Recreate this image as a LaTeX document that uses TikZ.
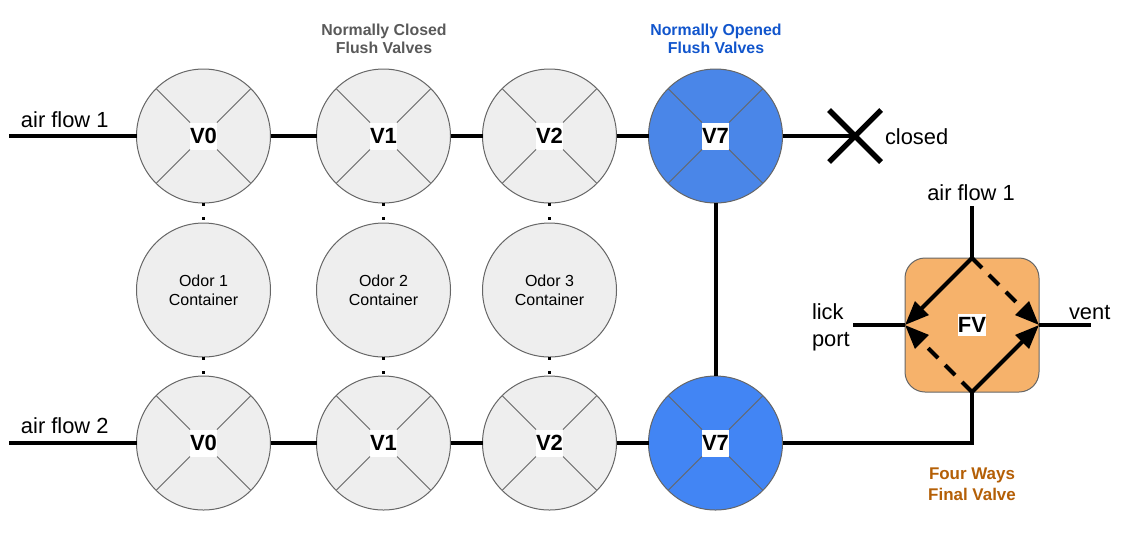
\documentclass[tikz,border=0pt]{standalone}
\usepackage{fontspec}
\setmainfont{Liberation Sans}
\usetikzlibrary{arrows.meta}
\definecolor{vgray}{HTML}{EEEEEE}
\definecolor{vstroke}{HTML}{666666}
\definecolor{vblueA}{HTML}{4A86E8}
\definecolor{vblueB}{HTML}{4285F4}
\definecolor{tgray}{HTML}{595959}
\definecolor{tblue}{HTML}{1155CC}
\definecolor{tbrown}{HTML}{B45F06}
\definecolor{forange}{HTML}{F6B26B}
\tikzset{
  x=0.75pt,y=-0.75pt,
  bigcircle/.style={circle,draw=vstroke,line width=0.75pt,minimum size=100.5pt,inner sep=0pt,outer sep=0pt},
  vlabel/.style={fill=white,inner sep=0pt,outer sep=0pt,minimum width=20.25pt,minimum height=20.25pt,font=\bfseries\fontsize{16.5}{18}\selectfont},
  vspoke/.style={draw=vstroke,line width=0.75pt},
  pipe/.style={draw=black,line width=3pt},
  dotted link/.style={draw=black,line width=2.5pt,dash pattern=on 2.5pt off 8pt},
  big/.style={font=\fontsize{16.4}{20}\selectfont,inner sep=0pt,outer sep=0pt},
  head/.style={align=center,inner sep=0pt,font=\bfseries\fontsize{11.9}{13.5}\selectfont},
  odortext/.style={align=center,font=\fontsize{12}{14.25}\selectfont},
  fvarrow/.style={pipe,-{Triangle[length=18pt,width=14pt]}},
  fvdash/.style={fvarrow,dash pattern=on 10.5pt off 7.5pt},
}
\newcommand{\valve}[5]{%
  \node[bigcircle,fill=#4] (#1) at (#2,#3) {};
  \node[vlabel] (#1l) at (#1) {#5};
  \draw[vspoke] (#1.north east) -- (#1l.north east);
  \draw[vspoke] (#1.north west) -- (#1l.north west);
  \draw[vspoke] (#1.south east) -- (#1l.south east);
  \draw[vspoke] (#1.south west) -- (#1l.south west);
}
\begin{document}
\begin{tikzpicture}
\useasboundingbox (0,0) rectangle (1130,537);
% valves
\valve{a0}{203.5}{136}{vgray}{V0}
\valve{a1}{383.5}{136}{vgray}{V1}
\valve{a2}{549.5}{136}{vgray}{V2}
\valve{a7}{715.5}{136}{vblueA}{V7}
\valve{b0}{203.5}{443}{vgray}{V0}
\valve{b1}{383.5}{443}{vgray}{V1}
\valve{b2}{549.5}{443}{vgray}{V2}
\valve{b7}{715.5}{443}{vblueB}{V7}
% odor containers
\node[bigcircle,fill=vgray,odortext] (o1) at (203.5,290) {Odor 1\\Container};
\node[bigcircle,fill=vgray,odortext] (o2) at (383.5,290) {Odor 2\\Container};
\node[bigcircle,fill=vgray,odortext] (o3) at (549.5,290) {Odor 3\\Container};
% final valve
\node[draw=vstroke,line width=0.75pt,fill=forange,rounded corners=15pt,minimum size=100.5pt,inner sep=0pt,outer sep=0pt] (fv) at (972,325) {};
\node[fill=white,inner sep=0pt,minimum width=21pt,minimum height=16.5pt,font=\bfseries\fontsize{16.5}{18}\selectfont] (fvl) at (fv) {FV};
% free ends
\coordinate (inA) at (9,136);
\coordinate (inB) at (9,443);
\coordinate (xc) at (855,136);
\coordinate (x1) at (829,110);
\coordinate (x2) at (881,162);
\coordinate (x3) at (881,110);
\coordinate (x4) at (829,162);
\coordinate (topin) at (972,206);
\coordinate (lickend) at (853,325);
\coordinate (ventend) at (1091,325);
% pipes
\draw[pipe] (inA) -- (a0);
\draw[pipe] (a0) -- (a1);
\draw[pipe] (a1) -- (a2);
\draw[pipe] (a2) -- (a7);
\draw[pipe] (a7) -- (xc);
\draw[pipe] (inB) -- (b0);
\draw[pipe] (b0) -- (b1);
\draw[pipe] (b1) -- (b2);
\draw[pipe] (b2) -- (b7);
\draw[pipe] (a7) -- (b7);
\draw[pipe] (b7.east) -| (fv.south);
\draw[pipe] (topin) -- (fv.north);
\draw[pipe] (lickend) -- (fv.west);
\draw[pipe] (fv.east) -- (ventend);
\draw[line width=4pt] (x1) -- (x2);
\draw[line width=4pt] (x3) -- (x4);
% dotted links
\foreach \u/\l in {a0/o1,a1/o2,a2/o3,o1/b0,o2/b1,o3/b2}{
  \draw[dotted link] (\u.south) -- (\l.north);
}
% four-way arrows
\draw[fvarrow] (fv.north) -- (fv.west);
\draw[fvarrow] (fv.south) -- (fv.east);
\draw[fvdash] (fv.north) -- (fv.east);
\draw[fvdash] (fv.south) -- (fv.west);
% labels
\node[big,anchor=base west] (t1) at (21,127) {air flow 1};
\node[big,anchor=base west] (t2) at (21,433) {air flow 2};
\node[big,anchor=base west] (t3) at (885,144) {closed};
\node[big,anchor=base] (t4) at (971,200) {air flow 1};
\node[big,anchor=base west] (t5) at (812,319) {lick};
\node[big,anchor=base west] (t6) at (812,346) {port};
\node[big,anchor=base west] (t7) at (1069,319) {vent};
\node[head,text=tgray] (h1) at (384,39) {Normally Closed\\Flush Valves};
\node[head,text=tblue] (h2) at (716,39) {Normally Opened\\Flush Valves};
\node[head,text=tbrown,font=\bfseries\fontsize{12.7}{15.75}\selectfont] (h3) at (972,484) {Four Ways\\Final Valve};
\end{tikzpicture}
\end{document}
